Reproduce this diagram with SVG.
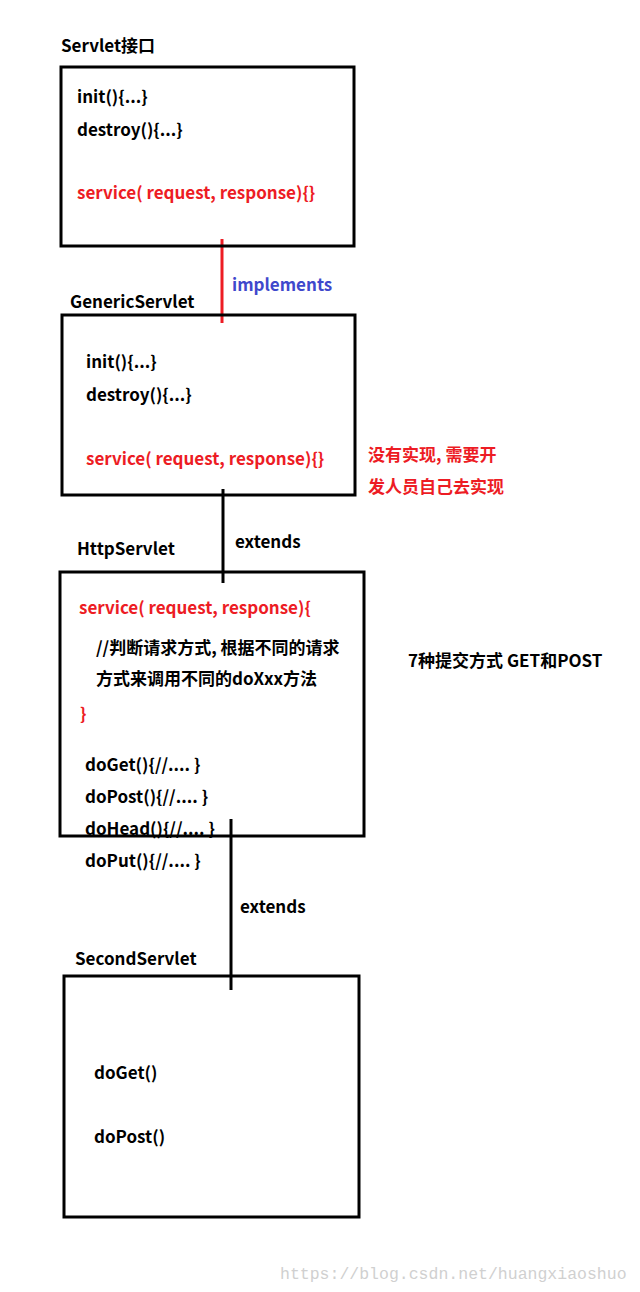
<svg xmlns="http://www.w3.org/2000/svg" width="640" height="1292" viewBox="0 0 640 1292">
<style>
.box{fill:none;stroke:#000;stroke-width:3}
.t{font-family:"Noto Sans CJK SC","Liberation Sans",sans-serif;font-weight:bold;font-size:17px;fill:#000}
.r{fill:#ed1c24}
.b{fill:#3f48cc}
.wm{font-family:"Liberation Mono",monospace;font-size:16.5px;fill:#d0d0d0}
</style>
<rect width="640" height="1292" fill="#fff"/>
<g id="connectors">
<line x1="222" y1="239" x2="222" y2="323" stroke="#ed1c24" stroke-width="3"/>
<line x1="223" y1="489" x2="223" y2="583" stroke="#000" stroke-width="3"/>
<line x1="231" y1="819" x2="231" y2="990" stroke="#000" stroke-width="3"/>
<text class="t b" x="232" y="291">implements</text>
<text class="t" x="235" y="548">extends</text>
<text class="t" x="240" y="913">extends</text>
</g>
<g id="servlet">
<rect class="box" x="61" y="67" width="293" height="179"/>
<text class="t" x="61" y="52">Servlet接口</text>
<text class="t" x="77" y="103">init(){...}</text>
<text class="t" x="77" y="136">destroy(){...}</text>
<text class="t r" x="77" y="199">service( request, response){}</text>
</g>
<g id="genericservlet">
<rect class="box" x="62" y="315" width="293" height="180"/>
<text class="t" x="70" y="308">GenericServlet</text>
<text class="t" x="86" y="368">init(){...}</text>
<text class="t" x="86" y="401">destroy(){...}</text>
<text class="t r" x="86" y="465">service( request, response){}</text>
<text class="t r" x="368" y="461">没有实现, 需要开</text>
<text class="t r" x="368" y="493">发人员自己去实现</text>
</g>
<g id="httpservlet">
<rect class="box" x="60" y="572" width="304" height="264"/>
<text class="t" x="77" y="555">HttpServlet</text>
<text class="t r" x="79" y="614">service( request, response){</text>
<text class="t" x="96" y="654">//判断请求方式, 根据不同的请求</text>
<text class="t" x="96" y="685">方式来调用不同的doXxx方法</text>
<text class="t r" x="80" y="720">}</text>
<text class="t" x="85" y="771">doGet(){//.... }</text>
<text class="t" x="85" y="803">doPost(){//.... }</text>
<text class="t" x="85" y="835">doHead(){//.... }</text>
<text class="t" x="85" y="867">doPut(){//.... }</text>
<text class="t" x="408" y="667">7种提交方式 GET和POST</text>
</g>
<g id="secondservlet">
<rect class="box" x="64" y="976" width="295" height="241"/>
<text class="t" x="75" y="965">SecondServlet</text>
<text class="t" x="94" y="1079">doGet()</text>
<text class="t" x="94" y="1143">doPost()</text>
</g>
<text class="wm" x="280" y="1279">https://blog.csdn.net/huangxiaoshuo</text>
</svg>
